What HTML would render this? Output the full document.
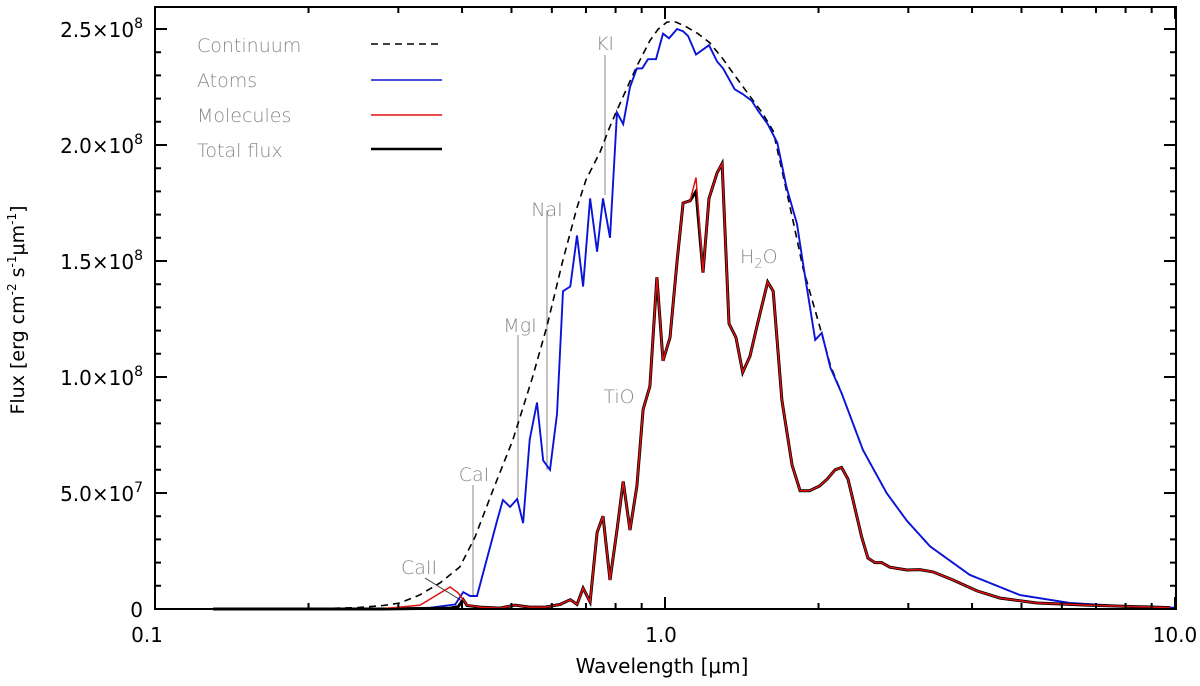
<!DOCTYPE html>
<html><head><meta charset="utf-8"><style>
body{margin:0;background:#fff}
svg{display:block;font-family:"DejaVu Sans","Liberation Sans",sans-serif}
</style></head><body>
<svg id="chart" width="1200" height="686" viewBox="0 0 1200 686" xmlns="http://www.w3.org/2000/svg">
<g id="plot"></g>
</svg>
<script>
const contLam=[0.13,0.2,0.25,0.28,0.302,0.33,0.362,0.396,0.424,0.460,0.503,0.55,0.587,0.63,0.672,0.70,0.746,0.78,0.805,0.84,0.881,0.934,0.97,1.01,1.05,1.1,1.16,1.225,1.3,1.37,1.468,1.55,1.63,1.70,1.78,1.865,2.01,2.11,2.22,2.445,2.72,2.98,3.31,3.96,4.97,6.22,7.8,10];
const contVal=[0,0.0005,0.006,0.015,0.026,0.06,0.112,0.181,0.310,0.513,0.728,1.0,1.22,1.50,1.73,1.85,1.97,2.08,2.15,2.24,2.34,2.45,2.50,2.53,2.53,2.51,2.48,2.44,2.37,2.30,2.21,2.14,2.06,1.88,1.68,1.47,1.22,1.05,0.93,0.685,0.50,0.38,0.27,0.147,0.06,0.026,0.013,0.005];
const atomLam=[0.13,0.276,0.346,0.388,0.402,0.415,0.428,0.469,0.481,0.497,0.513,0.527,0.543,0.561,0.577,0.595,0.614,0.631,0.652,0.672,0.691,0.713,0.736,0.756,0.780,0.805,0.828,0.854,0.881,0.902,0.926,0.960,0.991,1.018,1.056,1.085,1.11,1.15,1.22,1.265,1.30,1.37,1.42,1.48,1.52,1.59,1.66,1.73,1.815,1.865,1.97,2.03,2.11,2.22,2.445,2.72,2.98,3.31,3.96,4.97,6.22,7.8,10];
const atomVal=[0,0,0.005,0.02,0.073,0.056,0.056,0.384,0.47,0.44,0.474,0.37,0.73,0.89,0.64,0.60,0.84,1.37,1.39,1.61,1.39,1.77,1.54,1.77,1.60,2.14,2.09,2.25,2.33,2.33,2.37,2.37,2.48,2.46,2.50,2.49,2.47,2.39,2.43,2.36,2.33,2.24,2.22,2.19,2.15,2.09,2.01,1.82,1.66,1.49,1.16,1.19,1.04,0.93,0.685,0.50,0.38,0.27,0.147,0.06,0.026,0.013,0.005];
const molLam=[0.13,0.276,0.331,0.379,0.393,0.402,0.409,0.434,0.475,0.508,0.543,0.582,0.623,0.652,0.672,0.691,0.713,0.736,0.756,0.780,0.805,0.828,0.854,0.881,0.906,0.934,0.964,0.991,1.023,1.056,1.085,1.12,1.15,1.187,1.22,1.265,1.294,1.335,1.378,1.42,1.468,1.515,1.59,1.63,1.695,1.775,1.84,1.92,2.01,2.08,2.155,2.22,2.285,2.337,2.43,2.50,2.58,2.66,2.76,2.98,3.16,3.355,3.67,4.09,4.54,5.36,6.72,9.78];
const molVal=[0,0,0.017,0.095,0.07,0.04,0.017,0.008,0.004,0.017,0.008,0.008,0.02,0.04,0.02,0.09,0.03,0.33,0.40,0.125,0.34,0.55,0.34,0.53,0.86,0.96,1.43,1.07,1.17,1.50,1.75,1.76,1.86,1.45,1.77,1.88,1.92,1.23,1.17,1.02,1.09,1.22,1.41,1.37,0.90,0.62,0.51,0.51,0.53,0.56,0.60,0.61,0.56,0.47,0.31,0.22,0.20,0.20,0.18,0.168,0.17,0.16,0.125,0.078,0.047,0.026,0.017,0.006];
const totLam=[0.13,0.276,0.331,0.379,0.393,0.402,0.409,0.434,0.475,0.508,0.543,0.582,0.623,0.652,0.672,0.691,0.713,0.736,0.756,0.780,0.805,0.828,0.854,0.881,0.906,0.934,0.964,0.991,1.023,1.056,1.085,1.12,1.15,1.187,1.22,1.265,1.294,1.335,1.378,1.42,1.468,1.515,1.59,1.63,1.695,1.775,1.84,1.92,2.01,2.08,2.155,2.22,2.285,2.337,2.43,2.50,2.58,2.66,2.76,2.98,3.16,3.355,3.67,4.09,4.54,5.36,6.72,9.78];
const totVal=[0,0,0.002,0.004,0.01,0.04,0.015,0.008,0.004,0.017,0.008,0.008,0.02,0.04,0.02,0.09,0.03,0.33,0.40,0.125,0.34,0.55,0.34,0.53,0.86,0.96,1.43,1.07,1.17,1.50,1.75,1.76,1.80,1.45,1.77,1.88,1.92,1.23,1.17,1.02,1.09,1.22,1.41,1.37,0.90,0.62,0.51,0.51,0.53,0.56,0.60,0.61,0.56,0.47,0.31,0.22,0.20,0.20,0.18,0.168,0.17,0.16,0.125,0.078,0.047,0.026,0.017,0.006];
const xTickVals=[0.1,1,10];
const xTickLabels=["0.1","1.0","10.0"];
const yTickVals=[0,0.5,1.0,1.5,2.0,2.5];
const yTickLabels=["0","5.0","1.0","1.5","2.0","2.5"];
const yTickExp=["","7","8","8","8","8"];

const L=155,R=1176,T=7,B=609,DEC=510;
const sx=l=>L+(Math.log10(l)+1)*DEC;
const sy=v=>B-v*232;
const NS="http://www.w3.org/2000/svg";
const g=document.getElementById('plot');
function mk(tag,attrs,parent){const e=document.createElementNS(NS,tag);for(const k in attrs)e.setAttribute(k,attrs[k]);(parent||g).appendChild(e);return e;}
function path(lams,vals){return lams.map((l,i)=>(i?'L':'M')+sx(l).toFixed(1)+','+sy(vals[i]).toFixed(1)).join('');}

const ann=[[473,485,596],[518,335,497],[547,210,470],[605,55,195]];
ann.forEach(a=>{const e=mk('line',{x1:a[0],x2:a[0],y1:a[1],y2:a[2],stroke:'#999','stroke-width':1.2});

});
const ca2=mk('line',{x1:425,y1:578,x2:462,y2:601,stroke:'#333','stroke-width':1});



const c=mk('path',{d:path(contLam,contVal),fill:'none',stroke:'#000','stroke-width':1.6,'stroke-dasharray':'7,5','stroke-linejoin':'round'});


const a=mk('path',{d:path(atomLam,atomVal),fill:'none',stroke:'#0a14d8','stroke-width':1.9});


const t=mk('path',{d:path(totLam,totVal),fill:'none',stroke:'#000','stroke-width':3});


const m=mk('path',{d:path(molLam,molVal),fill:'none',stroke:'#e01010','stroke-width':1.5});



const fr=mk('rect',{x:L,y:T,width:R-L,height:B-T,fill:'none',stroke:'#000','stroke-width':2});



for(let d=0.1;d<10;d*=10){for(let k=1;k<=10;k++){const v=d*k;const x=sx(v);const major=(k===1||k===10);const len=major?12:6;
const tk=mk('path',{d:`M${x},${B}v${-len}M${x},${T}v${len}`,stroke:'#000','stroke-width':2});

}}
xTickVals.forEach((v,i)=>{const e=mk('text',{x:sx(v)-(i===0?8:(i===1?4:0)),y:642,'text-anchor':'middle','font-size':20,fill:'#000'});e.textContent=xTickLabels[i];

});
for(let v=0;v<=2.6;v+=0.1){const y=sy(v);const major=Math.abs(v*2-Math.round(v*2))<1e-6;const len=major?12:6;
const tk=mk('path',{d:`M${L},${y}h${len}M${R},${y}h${-len}`,stroke:'#000','stroke-width':2});

}
yTickVals.forEach((v,i)=>{const e=mk('text',{x:143,y:sy(v)+8,'text-anchor':'end','font-size':20,fill:'#000'});
if(yTickExp[i]){e.innerHTML=yTickLabels[i]+'×10<tspan font-size="14" dy="-9">'+yTickExp[i]+'</tspan>';}else{e.textContent=yTickLabels[i];}

});
</script>
<svg style="position:absolute;left:0;top:0" width="1200" height="686">
<g font-family="DejaVu Sans, Liberation Sans, sans-serif" fill="#000">
<text x="662" y="673" text-anchor="middle" font-size="20">Wavelength [μm]</text>
<text transform="translate(24,310) rotate(-90)" text-anchor="middle" font-size="19">Flux [erg cm<tspan font-size="12" dy="-8">-2</tspan><tspan dy="8"> s</tspan><tspan font-size="12" dy="-8">-1</tspan><tspan dy="8">μm</tspan><tspan font-size="12" dy="-8">-1</tspan><tspan dy="8">]</tspan></text>
</g>
<g font-family="DejaVu Sans, Liberation Sans, sans-serif" fill="#888" font-size="19" font-weight="300">
<text x="197" y="52">Continuum</text>
<text x="197" y="87">Atoms</text>
<text x="197" y="122">Molecules</text>
<text x="197" y="157">Total flux</text>
<text x="605" y="50" text-anchor="middle">KI</text>
<text x="547" y="216" text-anchor="middle">NaI</text>
<text x="520" y="332" text-anchor="middle">MgI</text>
<text x="474" y="481" text-anchor="middle">CaI</text>
<text x="419" y="574" text-anchor="middle">CaII</text>
<text x="619" y="403" text-anchor="middle">TiO</text>
<text x="740" y="263">H<tspan font-size="13" dy="5">2</tspan><tspan dy="-5">O</tspan></text>
</g>
<line x1="371" y1="44" x2="442" y2="44" stroke="#000" stroke-width="1.6" stroke-dasharray="7,5"/>
<line x1="371" y1="80" x2="442" y2="80" stroke="#0a14d8" stroke-width="1.6"/>
<line x1="371" y1="115" x2="442" y2="115" stroke="#e01010" stroke-width="1.6"/>
<line x1="371" y1="149" x2="442" y2="149" stroke="#000" stroke-width="2.6"/>
</svg>
</body></html>
